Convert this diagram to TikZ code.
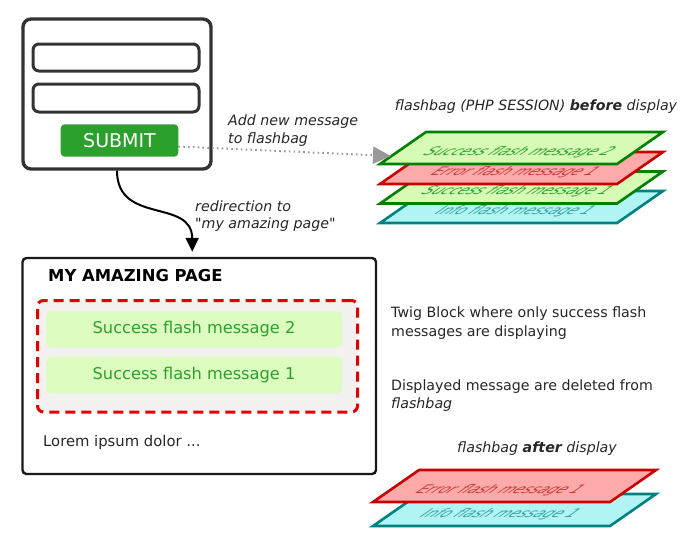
\documentclass[tikz,border=0pt]{standalone}
\usepackage{fontspec}
\setmainfont{DejaVu Sans}
\newfontfamily\plainfont{DejaVu Sans}
\usetikzlibrary{arrows.meta}

\definecolor{frame}{HTML}{333333}
\definecolor{btn}{HTML}{2CA02C}
\definecolor{okbox}{HTML}{DDFCC0}
\definecolor{oksheet}{HTML}{D5FBB5}
\definecolor{okline}{HTML}{008000}
\definecolor{oktext}{HTML}{2CA02C}
\definecolor{errsheet}{HTML}{FFAAAA}
\definecolor{errline}{HTML}{C80000}
\definecolor{errtext}{HTML}{C83737}
\definecolor{infosheet}{HTML}{B0F4F4}
\definecolor{infoline}{HTML}{008080}
\definecolor{infotext}{HTML}{37A0A0}
\definecolor{zonefill}{HTML}{F2F1F0}
\definecolor{zoneline}{HTML}{E00000}
\definecolor{pathgray}{HTML}{999999}

% one sheet of the flashbag stack: name, x of lower-left corner, y of lower edge,
% fill, border, text colour, text, horizontal text offset
\newcommand{\flashsheet}[8]{%
  \draw[sheet, fill=#4, draw=#5] (#2,#3) -- ++(237,0) -- ++(46,-32) -- ++(-237,0) -- cycle;
  \begin{scope}[shift={(#2+137+#8,#3-12)}]
    \node[sheettext, text=#6] (#1) at (0,0) {#7};
  \end{scope}}

\tikzset{
  txt/.style={inner sep=0pt, font=\fontsize{14.2}{17}\selectfont, text=black!85},
  field/.style={draw=frame, line width=3pt, rounded corners=6pt, minimum width=166pt},
  sheet/.style={line width=2.6pt, line join=miter},
  sheettext/.style={inner sep=0pt, font=\itshape\fontsize{14.8}{16}\selectfont,
                    xslant=1.2, yscale=0.8, transform shape},
  msgbox/.style={fill=okbox, rounded corners=5pt, minimum width=296pt, minimum height=36.6pt,
                 text=oktext, font=\fontsize{16.2}{18}\selectfont},
}

\begin{document}
\begin{tikzpicture}[x=1pt, y=-1pt]
\useasboundingbox (0,0) rectangle (692,547);

% ---------- the form ----------
\node[draw=frame, line width=3.4pt, rounded corners=8pt, minimum width=188pt,
      minimum height=150pt] (form) at (117,94) {};
\node[field, minimum height=27pt] (login) at (116,57.5) {};
\node[field, minimum height=28pt] (password) at (116,98) {};
\node[fill=btn, rounded corners=4pt, minimum width=117.6pt, minimum height=32.4pt,
      text=white, font=\fontsize{19}{20}\selectfont, inner sep=0pt] (submit) at (119.5,140.5) {SUBMIT};

% ---------- flashbag before display ----------
\node[txt, anchor=base] (beforetitle) at (536,110.7)
  {\itshape flashbag (PHP SESSION) \textbf{before} display};
\flashsheet{info1}{380}{223}{infosheet}{infoline}{infotext}{Info flash message 1}{-2}
\flashsheet{success1}{380}{203.5}{oksheet}{okline}{oktext}{Success flash message 1}{0}
\flashsheet{error1}{380}{184}{errsheet}{errline}{errtext}{Error flash message 1}{-2}
\flashsheet{success2}{380}{164}{oksheet}{okline}{oktext}{Success flash message 2}{2}
\coordinate (bagin) at (391,156);

% ---------- add to flashbag ----------
\draw[pathgray, line width=2pt, dash pattern=on 1.6pt off 3.2pt,
      -{Triangle[length=18pt, width=17pt, fill=pathgray]}]
  ([yshift=-6pt]submit.east) -- (bagin);
\node[txt, anchor=base west] (addmsg) at (228,125) {\itshape Add new message};
\node[txt, anchor=base west] (addmsg2) at (228,143) {\itshape to flashbag};

% ---------- the page ----------
\node[draw=black!90, line width=2.4pt, rounded corners=4pt, minimum width=353.5pt,
      minimum height=216pt] (page) at (199.25,366) {};
\node[inner sep=0pt, anchor=base west, font=\bfseries\fontsize{16.4}{18}\selectfont]
  (pagetitle) at (48,281.7) {MY AMAZING PAGE};
\node[fill=zonefill, draw=zoneline, line width=3pt, dash pattern=on 10pt off 6pt,
      rounded corners=6pt, minimum width=320pt, minimum height=111.5pt] (zone) at (197.5,356.25) {};
\node[msgbox] (msg2) at (194,329.4) {Success flash message 2};
\node[msgbox] (msg1) at (194,375) {Success flash message 1};
\node[txt, anchor=base west, font=\fontsize{14.8}{17}\selectfont] (lorem) at (43,446.7) {Lorem ipsum dolor ...};

% ---------- redirection ----------
\coordinate (landing) at ([xshift=-7pt, yshift=5pt]page.north);
\draw[black, line width=2pt, -{Triangle[length=14pt, width=13pt]}]
  (form.south) .. controls (117,225) and (192,198) .. (landing);
\node[txt, anchor=base west] (redir) at (195,211) {\itshape redirection to};
\node[txt, anchor=base west] (redir2) at (195,228) {\plainfont\itshape "my amazing page"};

% ---------- notes ----------
\node[txt, anchor=base west] (twig) at (391,317) {Twig Block where only success flash};
\node[txt, anchor=base west] (twig2) at (391,336) {messages are displaying};
\node[txt, anchor=base west] (deleted) at (391,390) {Displayed message are deleted from};
\node[txt, anchor=base west] (deleted2) at (391,408) {\itshape flashbag};

% ---------- flashbag after display ----------
\node[txt, anchor=base] (aftertitle) at (537,452.7) {\itshape flashbag \textbf{after} display};
\flashsheet{info1after}{373}{526}{infosheet}{infoline}{infotext}{Info flash message 1}{-10}
\flashsheet{error1after}{373}{502}{errsheet}{errline}{errtext}{Error flash message 1}{-10}
\end{tikzpicture}
\end{document}
